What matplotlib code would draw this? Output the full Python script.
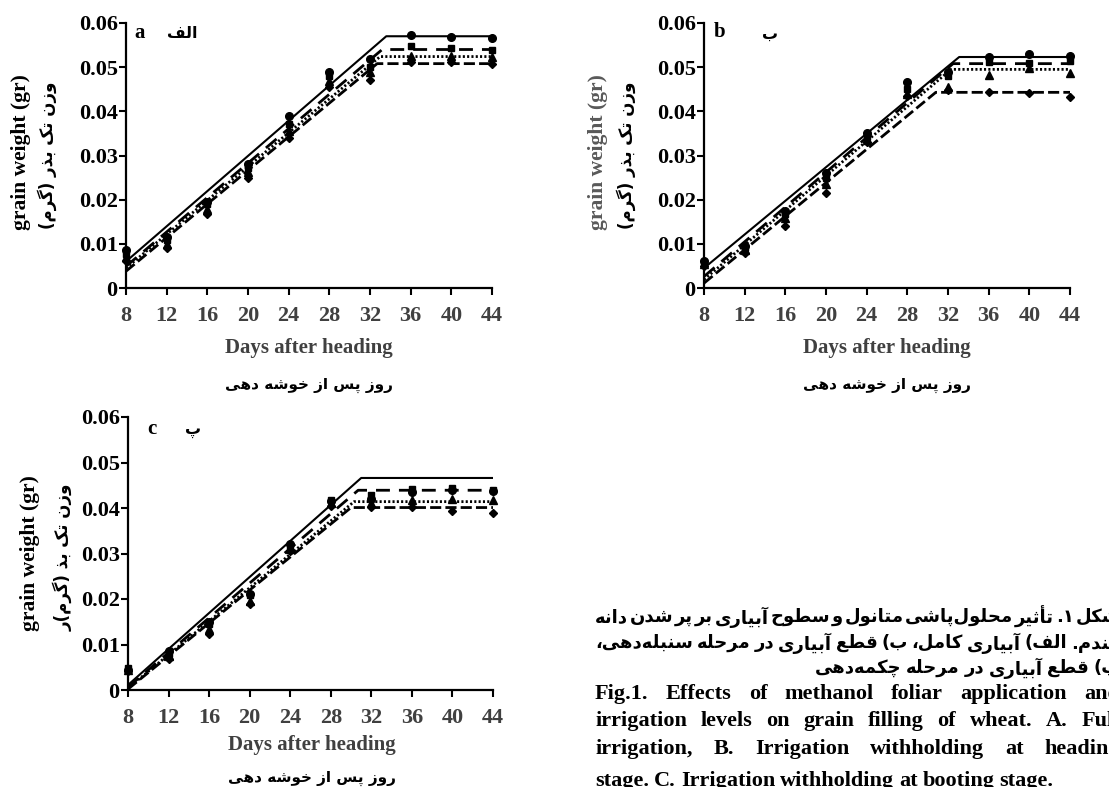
import matplotlib
matplotlib.use('Agg')
import matplotlib.pyplot as plt

W, H = 1109, 787
plt.rcParams['font.family'] = ['Liberation Serif', 'DejaVu Sans']
plt.rcParams['font.weight'] = 'bold'
plt.rcParams['lines.scale_dashes'] = False

# ---------------- data ----------------
days = [8, 12, 16, 20, 24, 28, 32, 36, 40, 44]
x_ticks = [8, 12, 16, 20, 24, 28, 32, 36, 40, 44]
y_ticks = [0, 0.01, 0.02, 0.03, 0.04, 0.05, 0.06]
y_tick_labels = ['0', '0.01', '0.02', '0.03', '0.04', '0.05', '0.06']

# panel a (full irrigation)
a_circle   = [0.0085, 0.0115, 0.0195, 0.0280, 0.0389, 0.0490, 0.0518, 0.0573, 0.0568, 0.0567]
a_square   = [0.0078, 0.0108, 0.0190, 0.0272, 0.0372, 0.0481, 0.0500, 0.0548, 0.0543, 0.0538]
a_triangle = [0.0070, 0.0100, 0.0180, 0.0262, 0.0355, 0.0468, 0.0488, 0.0525, 0.0525, 0.0523]
a_diamond  = [0.0062, 0.0090, 0.0167, 0.0250, 0.0340, 0.0455, 0.0470, 0.0512, 0.0512, 0.0507]
a_fit_start   = [0.0060, 0.0049, 0.0045, 0.0038]
a_fit_break   = [33.6, 33.2, 33.0, 32.7]
a_fit_plateau = [0.0570, 0.0540, 0.0524, 0.0508]

# panel b (withholding at heading)
b_circle   = [0.0062, 0.0095, 0.0175, 0.0260, 0.0350, 0.0467, 0.0488, 0.0522, 0.0529, 0.0525]
b_square   = [0.0058, 0.0090, 0.0168, 0.0248, 0.0342, 0.0450, 0.0480, 0.0512, 0.0510, 0.0514]
b_triangle = [0.0055, 0.0085, 0.0158, 0.0235, 0.0335, 0.0440, 0.0455, 0.0482, 0.0497, 0.0487]
b_diamond  = [0.0050, 0.0080, 0.0140, 0.0216, 0.0330, 0.0435, 0.0448, 0.0444, 0.0442, 0.0433]
b_fit_start   = [0.0045, 0.0026, 0.0019, 0.0011]
b_fit_break   = [33.1, 32.5, 32.3, 30.8]
b_fit_plateau = [0.0523, 0.0508, 0.0495, 0.0443]

# panel c (withholding at booting)
c_circle   = [0.0045, 0.0085, 0.0150, 0.0210, 0.0320, 0.0415, 0.0420, 0.0435, 0.0440, 0.0437]
c_square   = [0.0048, 0.0080, 0.0145, 0.0208, 0.0315, 0.0418, 0.0428, 0.0442, 0.0444, 0.0440]
c_triangle = [0.0045, 0.0075, 0.0135, 0.0195, 0.0310, 0.0410, 0.0412, 0.0418, 0.0420, 0.0417]
c_diamond  = [0.0042, 0.0068, 0.0123, 0.0188, 0.0305, 0.0405, 0.0403, 0.0402, 0.0394, 0.0390]
c_fit_start   = [0.0011, 0.0006, 0.0004, 0.0002]
c_fit_break   = [31.0, 30.7, 30.3, 30.0]
c_fit_plateau = [0.0466, 0.0439, 0.0414, 0.0401]

panel_letters = ['a', 'b', 'c']
panel_fa = ['الف', 'ب', 'پ']
ylabel_en = 'grain weight (gr)'
ylabel_fa = ['وزن تک بذر (گرم)', 'وزن تک بذر (گرم)', 'وزن تک بذ (گرم)ر']
xlabel_en = 'Days after heading'
xlabel_fa = 'روز پس از خوشه دهی'

caption_fa = [
    'شکل ۱. تأثیر محلول\u200cپاشی متانول و سطوح آبیاری بر پر شدن دانه',
    'گندم. الف) آبیاری کامل، ب) قطع آبیاری در مرحله سنبله\u200cدهی،',
    'پ) قطع آبیاری در مرحله چکمه\u200cدهی',
]
caption_en = [
    'Fig.1. Effects of methanol foliar application and',
    'irrigation levels on grain filling of wheat. A. Full',
    'irrigation, B. Irrigation withholding at heading',
    'stage. C. Irrigation withholding at booting stage.',
]

# ---------------- Persian shaping (presentation forms) ----------------
AR_FORMS = {
    '\u0627': ('\uFE8D', '\uFE8E', None, None),
    '\u0622': ('\uFE81', '\uFE82', None, None),
    '\u0623': ('\uFE83', '\uFE84', None, None),
    '\u0628': ('\uFE8F', '\uFE90', '\uFE91', '\uFE92'),
    '\u067E': ('\uFB56', '\uFB57', '\uFB58', '\uFB59'),
    '\u062A': ('\uFE95', '\uFE96', '\uFE97', '\uFE98'),
    '\u062B': ('\uFE99', '\uFE9A', '\uFE9B', '\uFE9C'),
    '\u062D': ('\uFEA1', '\uFEA2', '\uFEA3', '\uFEA4'),
    '\u062E': ('\uFEA5', '\uFEA6', '\uFEA7', '\uFEA8'),
    '\u0686': ('\uFB7A', '\uFB7B', '\uFB7C', '\uFB7D'),
    '\u062F': ('\uFEA9', '\uFEAA', None, None),
    '\u0630': ('\uFEAB', '\uFEAC', None, None),
    '\u0631': ('\uFEAD', '\uFEAE', None, None),
    '\u0632': ('\uFEAF', '\uFEB0', None, None),
    '\u0633': ('\uFEB1', '\uFEB2', '\uFEB3', '\uFEB4'),
    '\u0634': ('\uFEB5', '\uFEB6', '\uFEB7', '\uFEB8'),
    '\u0637': ('\uFEC1', '\uFEC2', '\uFEC3', '\uFEC4'),
    '\u0639': ('\uFEC9', '\uFECA', '\uFECB', '\uFECC'),
    '\u0641': ('\uFED1', '\uFED2', '\uFED3', '\uFED4'),
    '\u0642': ('\uFED5', '\uFED6', '\uFED7', '\uFED8'),
    '\u06A9': ('\uFB8E', '\uFB8F', '\uFB90', '\uFB91'),
    '\u06AF': ('\uFB92', '\uFB93', '\uFB94', '\uFB95'),
    '\u0644': ('\uFEDD', '\uFEDE', '\uFEDF', '\uFEE0'),
    '\u0645': ('\uFEE1', '\uFEE2', '\uFEE3', '\uFEE4'),
    '\u0646': ('\uFEE5', '\uFEE6', '\uFEE7', '\uFEE8'),
    '\u0647': ('\uFEE9', '\uFEEA', '\uFEEB', '\uFEEC'),
    '\u0648': ('\uFEED', '\uFEEE', None, None),
    '\u06CC': ('\uFBFC', '\uFBFD', '\uFBFE', '\uFBFF'),
}
LAM_ALEF = {'\u0627': ('\uFEFB', '\uFEFC'), '\u0622': ('\uFEF5', '\uFEF6'),
            '\u0623': ('\uFEF7', '\uFEF8')}
MIRROR = {'(': ')', ')': '('}


def shape(s):
    s = s.replace('\u064A', '\u06CC').replace('\u0643', '\u06A9')
    out = []
    i, n = 0, len(s)
    while i < n:
        c = s[i]
        if c not in AR_FORMS:
            out.append(c)
            i += 1
            continue
        prev = s[i - 1] if i > 0 else ''
        pj = prev in AR_FORMS and AR_FORMS[prev][2] is not None
        if c == '\u0644' and i + 1 < n and s[i + 1] in LAM_ALEF:
            out.append(LAM_ALEF[s[i + 1]][1 if pj else 0])
            i += 2
            continue
        nxt = s[i + 1] if i + 1 < n else ''
        nj = AR_FORMS[c][2] is not None and nxt in AR_FORMS
        iso, fin, ini, med = AR_FORMS[c]
        if pj and nj:
            out.append(med)
        elif pj:
            out.append(fin)
        elif nj:
            out.append(ini)
        else:
            out.append(iso)
        i += 1
    return ''.join(out).replace('\u200c', '')


def rtl(s):
    return ''.join(MIRROR.get(ch, ch) for ch in reversed(shape(s)))


FA = dict(family=['DejaVu Sans'], fontweight='bold')

# ---------------- figure ----------------
fig = plt.figure(figsize=(W / 100, H / 100), dpi=100)


def fx(px):
    return px / W


def fy(py):
    return 1 - py / H


def add_axes(l, t, r, b):
    return fig.add_axes([l / W, 1 - b / H, (r - l) / W, (b - t) / H])


styles = [
    dict(marker='o', ms=5.5, lw=1.5, dashes=None),
    dict(marker='s', ms=5.0, lw=2.0, dashes=(10, 6.5)),
    dict(marker='^', ms=5.5, lw=2.0, dashes=(1.5, 1.6)),
    dict(marker='D', ms=4.0, lw=2.0, dashes=(8, 3)),
]

panels = [
    dict(box=(126, 23, 492, 288), series=[a_circle, a_square, a_triangle, a_diamond],
         fs=a_fit_start, fb=a_fit_break, fp=a_fit_plateau,
         letter=(140, 33), fa=(182, 33), yl_en=(21, 152), yl_fa=(47, 155),
         xl_en=(309, 348), xl_fa=(309, 385), ycol='black'),
    dict(box=(704, 23, 1070, 288), series=[b_circle, b_square, b_triangle, b_diamond],
         fs=b_fit_start, fb=b_fit_break, fp=b_fit_plateau,
         letter=(720, 32), fa=(770, 34), yl_en=(598, 152), yl_fa=(626, 155),
         xl_en=(887, 348), xl_fa=(887, 385), ycol='#595959'),
    dict(box=(128, 417, 493, 690), series=[c_circle, c_square, c_triangle, c_diamond],
         fs=c_fit_start, fb=c_fit_break, fp=c_fit_plateau,
         letter=(152, 429), fa=(193, 430), yl_en=(30, 553), yl_fa=(63, 557),
         xl_en=(312, 745), xl_fa=(312, 778), ycol='black'),
]

for k, p in enumerate(panels):
    ax = add_axes(*p['box'])
    for vals, st, s0, b0, p0 in zip(p['series'], styles, p['fs'], p['fb'], p['fp']):
        line, = ax.plot([days[0], b0, days[-1]], [s0, p0, p0], color='black', lw=st['lw'],
                        solid_capstyle='butt', dash_capstyle='butt')
        if st['dashes'] is not None:
            line.set_dashes(st['dashes'])
        ax.plot(days, vals, ls='none', marker=st['marker'], ms=st['ms'],
                color='black', clip_on=False, zorder=3)
    ax.set_xlim(8, 44)
    ax.set_ylim(0, 0.06)
    ax.set_xticks(x_ticks)
    ax.set_xticklabels([str(t) for t in x_ticks])
    ax.set_yticks(y_ticks)
    ax.set_yticklabels(y_tick_labels)
    for s in ['top', 'right']:
        ax.spines[s].set_visible(False)
    for s in ['left', 'bottom']:
        ax.spines[s].set_linewidth(1.6)
    ax.tick_params(axis='both', direction='out', length=5, width=1.5, labelsize=16)
    ax.tick_params(axis='y', pad=1, labelcolor='black')
    ax.tick_params(axis='x', pad=8, labelcolor='#404040')
    ax.patch.set_alpha(0)

    fig.text(fx(p['letter'][0]), fy(p['letter'][1]), panel_letters[k], fontsize=15,
             ha='center', va='center')
    fig.text(fx(p['fa'][0]), fy(p['fa'][1]), rtl(panel_fa[k]), fontsize=11.5,
             ha='center', va='center', **FA)
    fig.text(fx(p['yl_en'][0]), fy(p['yl_en'][1]), ylabel_en, fontsize=15.5, rotation=90,
             ha='center', va='center', color=p['ycol'])
    fig.text(fx(p['yl_fa'][0]), fy(p['yl_fa'][1]), rtl(ylabel_fa[k]), fontsize=12,
             rotation=90, ha='center', va='center', **FA)
    fig.text(fx(p['xl_en'][0]), fy(p['xl_en'][1]), xlabel_en, fontsize=15,
             ha='center', va='center', color='#404040')
    fig.text(fx(p['xl_fa'][0]), fy(p['xl_fa'][1]), rtl(xlabel_fa), fontsize=11,
             ha='center', va='center', **FA)

# ---------------- caption (page cropped at the right) ----------------
renderer = fig.canvas.get_renderer()
col_left, col_right = 595, 1120


def justify(words, y, rtl_dir, size, kw, justify_line=True):
    texts, widths = [], []
    for w in words:
        t = fig.text(0, fy(y), w, fontsize=size, va='center', ha='left', **kw)
        texts.append(t)
        widths.append(t.get_window_extent(renderer).width)
    total = sum(widths)
    if justify_line and len(words) > 1:
        gap = (col_right - col_left - total) / (len(words) - 1)
    else:
        gap = texts[0].get_window_extent(renderer).height * 0.25
    if rtl_dir:
        x = col_right
        for t, w in zip(texts, widths):
            t.set_x(fx(x - w))
            x -= w + gap
    else:
        x = col_left
        for t, w in zip(texts, widths):
            t.set_x(fx(x))
            x += w + gap


fa_y = [617, 643, 668]
for i, line in enumerate(caption_fa):
    words = [rtl(w) for w in line.split(' ')]
    justify(words, fa_y[i], True, 13, FA, justify_line=(i < 2))

en_y = [694, 721, 749, 781]
for i, line in enumerate(caption_en):
    justify(line.split(' '), en_y[i], False, 16, dict(color='black'), justify_line=(i < 3))

fig.savefig('out.png', dpi=100)
